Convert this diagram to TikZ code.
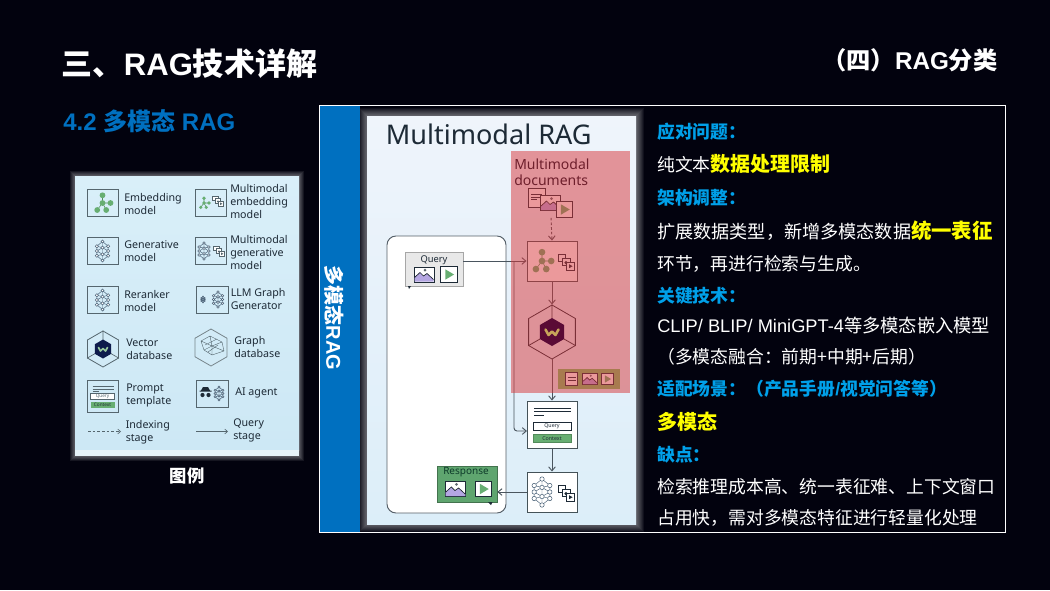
\documentclass[tikz,border=0pt]{standalone}
\usepackage{fontspec}
\setmainfont{Liberation Sans}
\newfontfamily\cjk{Noto Sans CJK SC}
\newfontfamily\ui{Noto Sans}
\usetikzlibrary{arrows.meta,shapes.geometric,calc}
\newcommand\zh[1]{{\cjk #1}}
\def\px{0.75pt}
\definecolor{bgc}{HTML}{02020E}
\definecolor{bandc}{HTML}{0070C0}
\definecolor{headc}{HTML}{00A0E9}
\definecolor{yel}{HTML}{FFFF00}
\definecolor{ink}{HTML}{1D2A36}
\definecolor{boxl}{HTML}{55666E}
\definecolor{gr}{HTML}{67AE72}
\definecolor{resp}{HTML}{5FA56F}
\definecolor{pur}{HTML}{B4A6E2}
\definecolor{netc}{HTML}{4A6278}
\definecolor{lgt}{HTML}{D9EFF9}
\definecolor{lgb}{HTML}{CDE8F5}
\definecolor{lgs}{HTML}{E6F2F8}
\definecolor{navy}{HTML}{0D1B4C}
\definecolor{maroon}{HTML}{5A0A35}
\definecolor{gold}{HTML}{C8A45A}
\definecolor{mnt}{HTML}{EFF4FB}
\definecolor{mnb}{HTML}{DCEEF9}
\definecolor{chkc}{HTML}{78C368}
\definecolor{pinkc}{HTML}{D83538}
\definecolor{mdc}{HTML}{6E1F2C}
\definecolor{cardc}{HTML}{E8E8E8}
\definecolor{rspt}{HTML}{0D3B2A}
\tikzset{
  ttl/.style={anchor=base west,inner sep=0,text=white,font=\bfseries\fontsize{23.3}{27}\selectfont},
  body/.style={anchor=base west,inner sep=0,text=white,font=\fontsize{13.35}{16}\selectfont},
  head/.style={anchor=base west,inner sep=0,text=headc,font=\bfseries\fontsize{13.35}{16}\selectfont},
  lg/.style={anchor=west,inner sep=0,text=ink,align=left,font=\ui\fontsize{8}{9.75}\selectfont},
  icbox/.style={draw=boxl,line width=.6pt,inner sep=0,minimum width=31*\px,minimum height=27*\px},
  flow/.style={draw=boxl!80!black,line width=.7pt,inner sep=0,fill=#1},
  flow/.default=white,
  conn/.style={draw=ink!80,line width=.7pt,-{Straight Barb[length=3pt,width=5pt]}},
  hexs/.style={regular polygon,regular polygon sides=6,shape border rotate=30,inner sep=0,draw=boxl,line width=.6pt},
}
% icons
\newcommand\icEmbed[4]{\begin{scope}[shift={(#1,#2)},scale=#3]
\draw[#4!80!black,line width=.4pt] (0,-7.7)--(0,0)--(8,0) (0,0)--(-5.3,7) (0,0)--(3.7,7);
\foreach \p in {(0,-7.7),(0,0),(8,0),(-5.3,7),(3.7,7)} \fill[#4] \p circle (2.9);
\end{scope}}
\newcommand\icNet[4]{\begin{scope}[shift={(#1,#2)},scale=#3]
\draw[#4,line width=.35pt] (0,-10)--(0,10) (0,-10)--(-6,-5)--(-6,5)--(0,10)--(6,5)--(6,-5)--cycle
 (-6,-5)--(0,-3.5)--(6,-5) (-6,0)--(0,-3.5)--(6,0)--(0,3.5)--cycle (-6,5)--(0,3.5)--(6,5);
\foreach \p in {(0,-10),(0,-3.5),(0,3.5),(0,10),(-6,-5),(-6,0),(-6,5),(6,-5),(6,0),(6,5)} \draw[#4,fill=white,line width=.4pt] \p circle (1.7);
\end{scope}}
\newcommand\icDocs[4]{\begin{scope}[shift={(#1,#2)},scale=#3]
\foreach \dx/\dy in {-3.5/-3.5,0/0,3.5/3.5} \draw[#4,fill=white,line width=.35pt] (\dx-3.2,\dy-3) rectangle (\dx+3.2,\dy+3);
\fill[#4] (0,.5) circle (1.4);
\fill[#4] (2.5,1.8)--(5.5,3.5)--(2.5,5.2)--cycle;
\end{scope}}
\newcommand\icImg[5]{\begin{scope}[shift={(#1,#2)},scale=#3]
\draw[#4,fill=white,line width=.6pt] (-10,-7.5) rectangle (10,7.5);
\fill[#5] (-9.5,7)--(-9.5,3)--(-4,-2)--(-.5,1.5)--(3,-1)--(9.5,5)--(9.5,7)--cycle;
\draw[#4!80!black,line width=.5pt] (-9.5,3)--(-4,-2)--(-.5,1.5)--(3,-1)--(9.5,5);
\fill[#4!70] (1,-4.5) circle (1.5);
\end{scope}}
\newcommand\icVid[4]{\begin{scope}[shift={(#1,#2)},scale=#3]
\draw[#4,fill=white,line width=.7pt] (-8,-7.5) rectangle (8,7.5);
\fill[gr] (-3.5,-5)--(5,0)--(-3.5,5)--cycle;
\end{scope}}
\newcommand\icPrompt[2]{\begin{scope}[shift={(#1,#2)}]
\draw[boxl,line width=.5pt] (-10,-9.5)--(11,-9.5) (-10,-7)--(11,-7) (-10,-4.5)--(-4,-4.5);
\end{scope}}
\begin{document}
\begin{tikzpicture}[x=0.75pt,y=-0.75pt]
\useasboundingbox (0,0) rectangle (1050,590);
\fill[bgc] (0,0) rectangle (1050,590);
% titles
\node[ttl] (title) at (61.5,75) {\zh{三、}RAG\zh{技术详解}};
\node[ttl,font=\bfseries\fontsize{18.2}{22}\selectfont] (sect) at (822,69) {\zh{（四）}RAG\zh{分类}};
\node[ttl,text=bandc,font=\bfseries\fontsize{18}{22}\selectfont] (sub) at (63,130) {4.2 \zh{多模态} RAG};
% shadows
\foreach \d in {5,4,...,1}{
  \fill[white,opacity=.08] (75-\d,176-\d) rectangle (299+\d,456+\d);
}
\foreach \d in {8,7,...,1}{
  \fill[white,opacity=.06] (367-\d,116-\d) rectangle (636+\d,524+\d);
}
\fill[bandc] (319,105) rectangle (360,532);
\draw[white,line width=.75pt] (319,105) rectangle (1005.5,532.5);
\node[inner sep=0,rotate=-90,text=white,font=\bfseries\fontsize{15}{18}\selectfont] (band) at (334,318) {\zh{多模态}RAG};
% ---------- legend
\shade[top color=lgt,bottom color=lgb] (75,176) rectangle (299,450);
\fill[lgs] (75,450) rectangle (299,456);
\node[icbox] (l1) at (102.5,202.5) {};
\icEmbed{102.5}{203}{1}{gr}
\node[lg] (t1) at (124,203.5) {Embedding\\model};
\node[icbox] (l2) at (210.5,202.5) {};
\icEmbed{204}{203}{.62}{gr}
\icDocs{218}{201}{.8}{boxl}
\node[lg] (t2) at (230,201) {Multimodal\\embedding\\model};
\node[icbox] (l3) at (102.5,251) {};
\icNet{102.5}{251}{.95}{netc}
\node[lg] (t3) at (124,251.5) {Generative\\model};
\node[icbox] (l4) at (210.5,251) {};
\icNet{204}{251}{.8}{netc}
\icDocs{219}{251}{.8}{boxl}
\node[lg] (t4) at (230,252) {Multimodal\\generative\\model};
\node[icbox] (l5) at (102.5,300) {};
\icNet{102.5}{300}{.95}{netc}
\node[lg] (t5) at (124,301) {Reranker\\model};
\node[icbox,minimum width=32*\px] (l6) at (212,299.5) {};
\icNet{218}{299.5}{.75}{netc}
\icNet{203}{299.5}{.3}{netc}
\node[lg] (t6) at (230.5,298.5) {LLM Graph\\Generator};
% vector db legend
\node[hexs,minimum size=36*\px] (l7) at (103,349) {};
\draw[boxl,line width=.5pt] (l7.north)--(103,341) (l7.corner 3)--(96,353) (l7.corner 5)--(110,353);
\node[regular polygon,regular polygon sides=6,shape border rotate=30,inner sep=0,fill=navy,minimum size=19*\px] (l7b) at (103,349) {};
\draw[gr!70!white,line width=1.3pt,line join=round,line cap=round] (98.5,347.5)--(100.5,351)--(103,348.5)--(105.5,351)--(107.5,347.5);
\node[lg] (t7) at (126,349.5) {Vector\\database};
\node[hexs,minimum size=37*\px,draw=boxl!80] (l8) at (211,347.5) {};
\draw[boxl,line width=.3pt] (201,341)--(210,336)--(222,342)--(224,351)--(212,355)--(204,350)--cycle (201,341)--(212,346)--(222,342) (212,346)--(212,355) (210,336)--(212,346)--(204,350) (212,346)--(224,351) (205,345)--(217,339) (208,352)--(218,345);
\node[lg] (t8) at (234,346.5) {Graph\\database};
\node[draw=boxl,line width=.6pt,inner sep=0,minimum width=31*\px,minimum height=32*\px] (l9) at (102.5,396) {};
\icPrompt{102.5}{396}
\node[draw=boxl,fill=white,line width=.4pt,inner sep=0,minimum width=24*\px,minimum height=6*\px,font=\ui\fontsize{3.5}{4}\selectfont,text=boxl] (l9q) at (102.5,396.5) {Query};
\node[fill=gr,inner sep=0,minimum width=24*\px,minimum height=6*\px,font=\ui\fontsize{3.5}{4}\selectfont,text=ink] (l9c) at (102.5,405) {Context};
\node[lg] (t9) at (126,395.5) {Prompt\\template};
\node[icbox,minimum width=32*\px] (l10) at (212,393.5) {};
\fill[ink] (201,390.5)--(203,387)--(208,387)--(210,390.5)--cycle (199.5,390.5) rectangle (211.5,391.5);
\fill[ink] (202.5,395) circle (2.1) (208.5,395) circle (2.1);
\icNet{219}{393.5}{.65}{netc}
\node[lg] (t10) at (235,393) {AI agent};
\coordinate (ia) at (88,431.5); \coordinate (ib) at (121,431.5);
\draw[boxl,dashed,dash pattern=on 2pt off 1.5pt,line width=.5pt,-{Straight Barb[length=2pt,width=3.5pt]}] (ia)--(ib);
\node[lg] (t11) at (125.5,432.5) {Indexing\\stage};
\coordinate (qa) at (196,431.5); \coordinate (qb) at (228,431.5);
\draw[boxl,line width=.5pt,-{Straight Barb[length=2pt,width=3.5pt]}] (qa)--(qb);
\node[lg] (t12) at (233,430) {Query\\stage};
\node[inner sep=0,text=white,font=\cjk\bfseries\fontsize{13}{16}\selectfont] (cap) at (187,476) {图例};
% ---------- main figure
\shade[top color=mnt,bottom color=mnb] (367,116) rectangle (636,524);
\node[anchor=west,inner sep=0,text=ink,font=\ui\fontsize{20.3}{24}\selectfont] (mt) at (385.5,134) {Multimodal RAG};
% response frame
\draw[ink!75,fill=white,line width=.7pt,rounded corners=9*\px] (387,236) rectangle (506,513);
% docs
\node[draw=ink,fill=white,line width=.6pt,inner sep=0,minimum width=17*\px,minimum height=19*\px] (d1) at (536.5,197.5) {};
\draw[ink,line width=.6pt] (531,194)--(542,194) (531,197)--(542,197) (531,199)--(537,199);
\icImg{550.5}{203}{1}{ink}{pur}
\icVid{564.5}{209.5}{1.05}{ink}
\node[inner sep=0,minimum size=1*\px] (mdoc) at (551,217) {};
% embedder
\node[flow,minimum width=50*\px,minimum height=40*\px] (emb) at (552,261) {};
\icEmbed{542}{261}{1.15}{gr}
\icDocs{566}{262}{1.2}{ink}
\draw[conn,dashed,dash pattern=on 2pt off 1.5pt] (mdoc) -- (emb.north);
% vector db
\node[hexs,draw=ink,fill=none,minimum size=54*\px] (vdb) at (552,332) {};
\draw[ink,line width=.6pt] (vdb.north)--(552,318) (vdb.corner 3)--(540,339) (vdb.corner 5)--(564,339);
% chunks
\node[fill=chkc,inner sep=0,minimum width=62*\px,minimum height=20*\px] (chk) at (589,379) {};
\node[draw=ink,fill=white,line width=.4pt,inner sep=0,minimum width=12*\px,minimum height=13*\px] (c1) at (571.5,379) {};
\draw[ink,line width=.4pt] (567.5,377)--(575.5,377) (567.5,380)--(575.5,380);
\icImg{590}{379}{.72}{ink}{pur}
\icVid{607.5}{379}{.72}{ink}
% prompt
\node[flow,minimum width=50*\px,minimum height=47*\px] (prm) at (552,424.5) {};
\draw[ink,line width=.6pt] (534,408.5)--(571,408.5) (534,411.5)--(571,411.5) (534,415)--(544,415);
\node[draw=ink,fill=white,line width=.4pt,inner sep=0,minimum width=38*\px,minimum height=8*\px,font=\ui\fontsize{4}{5}\selectfont,text=ink] (pq) at (552,426) {Query};
\node[fill=gr,draw=gr!80!black,line width=.3pt,inner sep=0,minimum width=38*\px,minimum height=8*\px,font=\ui\fontsize{4}{5}\selectfont,text=ink] (pc) at (552,438.5) {Context};
% generator
\node[flow,minimum width=50*\px,minimum height=40*\px] (gen) at (552,492) {};
\icNet{542}{492}{1.3}{netc}
\icDocs{566}{493}{1.2}{ink}
% query card
\node[draw=gray!70,fill=cardc,line width=.5pt,inner sep=0,minimum width=58*\px,minimum height=34*\px] (qry) at (434,269) {};
\node[inner sep=0,text=ink,font=\ui\fontsize{7}{8}\selectfont] (qt) at (434,260) {Query};
\icImg{424}{274.5}{1}{ink}{pur}
\icVid{449}{274.5}{1.02}{ink}
\fill[ink] (408,286)--(411,286)--(409,289)--cycle;
% response card
\node[draw=resp!70!black,fill=resp,line width=.5pt,inner sep=0,minimum width=60*\px,minimum height=36*\px] (rsp) at (467,484) {};
\node[inner sep=0,text=rspt,font=\ui\bfseries\fontsize{7.5}{9}\selectfont] (rt) at (466,472) {Response};
\icImg{455.5}{489}{1.03}{ink}{pur}
\icVid{483.5}{489}{1.05}{ink}
\fill[ink] (488,502)--(492.5,502)--(491,505)--cycle;
% connectors
\coordinate (br) at (514,261);
\coordinate (pin) at (527,431);
\draw[conn,rounded corners=3*\px] (br) |- (pin);
\draw[conn] (qry.east |- emb.west) -- (emb.west);
\draw[conn] (emb.south) -- (vdb.north);
\draw[conn] (vdb.south) -- (prm.north);
\draw[conn] (prm.south) -- (gen.north);
\draw[conn] (gen.west) -- (rsp.east |- gen.west);
% pink overlay
\fill[pinkc,opacity=.5] (511,151) rectangle (630,393);
\node[regular polygon,regular polygon sides=6,shape border rotate=30,inner sep=0,fill=maroon,minimum size=28*\px] (vdb2) at (552,332) {};
\draw[gold,line width=1.9pt,line join=round,line cap=round] (545.5,329.5)--(548.5,335)--(552,331.5)--(555.5,335)--(558.5,329.5);
\node[anchor=west,inner sep=0,text=mdc,align=left,font=\ui\fontsize{10.5}{12}\selectfont] (md) at (514,172) {Multimodal\\documents};
% ---------- text column
\node[head] (b1) at (657,138) {\zh{应对问题：}};
\node[body] (b2) at (657,171) {\zh{纯文本}\textcolor{yel}{\cjk\bfseries\fontsize{15}{16}\selectfont 数据处理限制}};
\node[head] (b3) at (657,204) {\zh{架构调整：}};
\node[body,font=\fontsize{13.6}{16}\selectfont] (b4) at (657,238) {\zh{扩展数据类型，新增多模态数据}\textcolor{yel}{\cjk\bfseries\fontsize{15.3}{16}\selectfont 统一表征}};
\node[body] (b5) at (657,270) {\zh{环节，再进行检索与生成。}};
\node[head] (b6) at (657,302) {\zh{关键技术：}};
\node[body,font=\fontsize{13.7}{16}\selectfont] (b7) at (657,332) {CLIP/ BLIP/ MiniGPT-4\zh{等多模态嵌入模型}};
\node[body] (b8) at (657,363) {\zh{（多模态融合：前期+中期+后期）}};
\node[head] (b9) at (657,395) {\zh{适配场景：（产品手册}/\zh{视觉问答等）}};
\node[body,text=yel,font=\cjk\bfseries\fontsize{15}{16}\selectfont] (b10) at (657,429) {多模态};
\node[head] (b11) at (657,461) {\zh{缺点：}};
\node[body] (b12) at (657,493) {\zh{检索推理成本高、统一表征难、上下文窗口}};
\node[body] (b13) at (657,524) {\zh{占用快，需对多模态特征进行轻量化处理}};
\end{tikzpicture}
\end{document}
